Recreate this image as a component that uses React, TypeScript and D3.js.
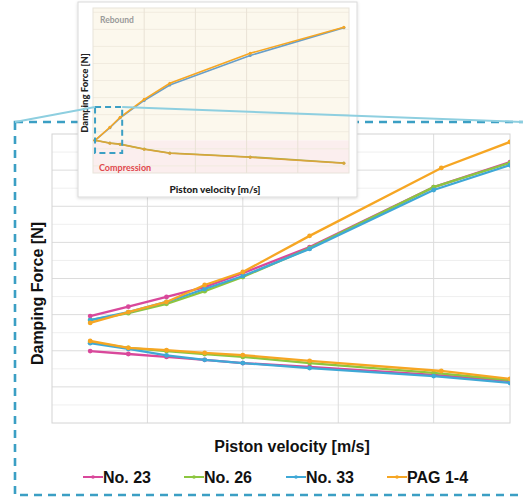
import * as d3 from 'd3';
import React from 'react';

// main (zoomed) chart data, piston velocity in m/s, force in arbitrary N
const velocity = [0.04, 0.08, 0.12, 0.16, 0.2, 0.27, 0.4, 0.48];
const pagVelocity = [0.04, 0.08, 0.12, 0.16, 0.2, 0.27, 0.408, 0.48];

const no23Rebound = [296, 322, 349, 376, 415, 487, 653, 722];
const no26Rebound = [285, 304, 330, 365, 404, 484, 653, 720];
const no33Rebound = [285, 307, 335, 371, 407, 482, 645, 714];
const pagRebound = [277, 307, 335, 382, 418, 518, 706, 778];

const no23Compression = [199, 191, 183, 175, 166, 155, 133, 116];
const no26Compression = [224, 208, 199, 191, 183, 166, 139, 119];
const no33Compression = [221, 205, 187, 175, 166, 152, 130, 111];
const pagCompression = [227, 208, 202, 194, 188, 172, 144, 122];

const seriesNames = ['No. 23', 'No. 26', 'No. 33', 'PAG 1-4'];
const seriesColors = ['#d9489b', '#8cc63f', '#3fa8d6', '#f6a623'];

// inset (full range) data
const insetVelocity = [0.004, 0.033, 0.053, 0.1, 0.15, 0.307, 0.49];
const insetBlueRebound = [0, 440, 790, 1400, 1940, 2980, 3960];
const insetPagRebound = [0, 457, 808, 1441, 2003, 3058, 3972];
const insetGreenCompression = [0, -95, -135, -305, -445, -585, -800];
const insetPagCompression = [0, -105, -141, -316, -457, -598, -808];
const zoomBox = { x0: 0.004, x1: 0.057, y0: -450, y1: 1170 };

const font = '"Liberation Sans", Arial, sans-serif';
const insetFont = 'Lato, sans-serif';

export default function App() {
  const W = 523, H = 499;

  // main chart scales
  const m = { left: 52, right: 510, top: 134, bottom: 423 };
  const x = d3.scaleLinear().domain([0, 0.48]).range([m.left, m.right]);
  const y = d3.scaleLinear().domain([0, 800]).range([m.bottom, m.top]);

  const line = d3.line<[number, number]>()
    .x(d => x(d[0]))
    .y(d => y(d[1]));

  const rebound = [no23Rebound, no26Rebound, no33Rebound, pagRebound];
  const compression = [no23Compression, no26Compression, no33Compression, pagCompression];
  const xsFor = (i: number) => (i === 3 ? pagVelocity : velocity);

  // inset scales
  const inset = { left: 93, right: 349, top: 8, bottom: 173 };
  const ix = d3.scaleLinear().domain([0, 0.5]).range([inset.left, inset.right]);
  const iy = d3.scaleLinear().domain([-1150, 4650]).range([inset.bottom, inset.top]);
  const iline = d3.line<[number, number]>()
    .x(d => ix(d[0]))
    .y(d => iy(d[1]));

  const frame = { x: 15, y: 122, w: 520, h: 373 };
  const bx0 = ix(zoomBox.x0), bx1 = ix(zoomBox.x1);
  const by0 = iy(zoomBox.y1), by1 = iy(zoomBox.y0);

  const legendX = [83, 184, 286, 387];

  const insetSeries = [
    { xs: insetVelocity, ys: insetBlueRebound, c: '#6a9fc8' },
    { xs: insetVelocity, ys: insetGreenCompression, c: '#a8b04a' },
    { xs: insetVelocity, ys: insetPagRebound, c: seriesColors[3] },
    { xs: insetVelocity, ys: insetPagCompression, c: '#d9a53c' },
  ];

  return (
    <svg width={W} height={H} style={{ position: 'absolute', left: 0, top: 0, background: '#fff' }}>
      <defs>
        <clipPath id="mainClip">
          <rect x={m.left} y={m.top} width={m.right - m.left} height={m.bottom - m.top} />
        </clipPath>
        <filter id="shadow" x="-5%" y="-5%" width="110%" height="110%">
          <feDropShadow dx="0" dy="1" stdDeviation="1.5" floodColor="#000" floodOpacity="0.15" />
        </filter>
      </defs>

      {/* main grid */}
      <g>
        {d3.range(50, 800, 100).map(v => (
          <line key={'mn' + v} x1={m.left} x2={m.right} y1={y(v)} y2={y(v)} stroke="#efefef" strokeWidth={1} />
        ))}
        {d3.range(100, 800, 100).map(v => (
          <line key={'mj' + v} x1={m.left} x2={m.right} y1={y(v)} y2={y(v)} stroke="#dcdcdc" strokeWidth={1} />
        ))}
        {[0.1, 0.2, 0.3, 0.4].map(v => (
          <line key={'vx' + v} x1={x(v)} x2={x(v)} y1={m.top} y2={m.bottom} stroke="#dcdcdc" strokeWidth={1} />
        ))}
        <rect x={m.left} y={m.top} width={m.right - m.left} height={m.bottom - m.top} fill="none" stroke="#d4d4d4" />
      </g>

      {/* main series */}
      <g clipPath="url(#mainClip)">
        {seriesColors.map((c, i) => {
          const xs = xsFor(i);
          const up = xs.map((v, k) => [v, rebound[i][k]] as [number, number]);
          const dn = xs.map((v, k) => [v, compression[i][k]] as [number, number]);
          return (
            <g key={i}>
              <path d={line(up) || ''} fill="none" stroke={c} strokeWidth={2.3} />
              <path d={line(dn) || ''} fill="none" stroke={c} strokeWidth={2.3} />
              {up.concat(dn).map((d, k) => (
                <circle key={k} cx={x(d[0])} cy={y(d[1])} r={2.4} fill={c} />
              ))}
            </g>
          );
        })}
      </g>

      {/* main axis titles */}
      <text x={292} y={452} textAnchor="middle" fontFamily={font} fontWeight="bold" fontSize={16} fill="#111">
        Piston velocity [m/s]
      </text>
      <text transform={`translate(43,${(m.top + m.bottom) / 2 + 15}) rotate(-90)`} textAnchor="middle"
        fontFamily={font} fontWeight="bold" fontSize={16} fill="#111">
        Damping Force [N]
      </text>

      {/* legend */}
      {seriesNames.map((name, i) => (
        <g key={name} transform={`translate(${legendX[i]},477)`}>
          <line x1={0} x2={20} y1={0} y2={0} stroke={seriesColors[i]} strokeWidth={2} />
          <circle cx={10} cy={0} r={1.8} fill={seriesColors[i]} />
          <text x={20} y={6} fontFamily={font} fontWeight="bold" fontSize={16} fill="#111">{name}</text>
        </g>
      ))}

      {/* dashed zoom frame */}
      <rect x={frame.x} y={frame.y} width={frame.w} height={frame.h} fill="none"
        stroke="#3b9fc4" strokeWidth={2.6} strokeDasharray="8 6" />

      {/* inset chart */}
      <g>
        <rect x={78} y={2} width={279} height={195} fill="#fff" stroke="#dadada" filter="url(#shadow)" />
        <rect x={inset.left} y={inset.top} width={inset.right - inset.left} height={iy(0) - inset.top} fill="#fcf8ed" />
        <rect x={inset.left} y={iy(0)} width={inset.right - inset.left} height={inset.bottom - iy(0)} fill="#fbeeee" />
        {d3.range(-900, 4650, 600).map(v => (
          <line key={'ih' + v} x1={inset.left} x2={inset.right} y1={iy(v)} y2={iy(v)} stroke="#f1ebdf" strokeWidth={1} />
        ))}
        {[0.1, 0.2, 0.3, 0.4].map(v => (
          <line key={'iv' + v} x1={ix(v)} x2={ix(v)} y1={inset.top} y2={inset.bottom} stroke="#e9e2d6" strokeWidth={1} />
        ))}
        <rect x={inset.left} y={inset.top} width={inset.right - inset.left} height={inset.bottom - inset.top}
          fill="none" stroke="#e8e3da" />
        {insetSeries.map((s, i) => {
          const pts = s.xs.map((v, k) => [v, s.ys[k]] as [number, number]);
          return (
            <g key={i}>
              <path d={iline(pts) || ''} fill="none" stroke={s.c} strokeWidth={1.6} />
              {pts.map((d, k) => (
                <circle key={k} cx={ix(d[0])} cy={iy(d[1])} r={1.5} fill={s.c} />
              ))}
            </g>
          );
        })}
        <text x={100} y={23} fontFamily={insetFont} fontWeight="bold" fontSize={8.5} fill="#9a9a9a">Rebound</text>
        <text x={99} y={171} fontFamily={insetFont} fontWeight="bold" fontSize={9} fill="#e0474c">Compression</text>
        <text x={215} y={193} textAnchor="middle" fontFamily={insetFont} fontWeight="900" fontSize={10} fill="#222">
          Piston velocity [m/s]
        </text>
        <text transform="translate(88,93) rotate(-90)" textAnchor="middle" fontFamily={insetFont}
          fontWeight="900" fontSize={9.5} fill="#222">
          Damping Force [N]
        </text>
        {/* small zoom box */}
        <rect x={bx0} y={by0} width={bx1 - bx0} height={by1 - by0} fill="none"
          stroke="#3b9fc4" strokeWidth={2} strokeDasharray="6 4" />
      </g>

      {/* connector lines */}
      <line x1={frame.x} y1={frame.y} x2={bx0} y2={by0} stroke="#8ecfe0" strokeWidth={2} />
      <line x1={bx1} y1={by0} x2={W} y2={frame.y} stroke="#8ecfe0" strokeWidth={2} />
    </svg>
  );
}
